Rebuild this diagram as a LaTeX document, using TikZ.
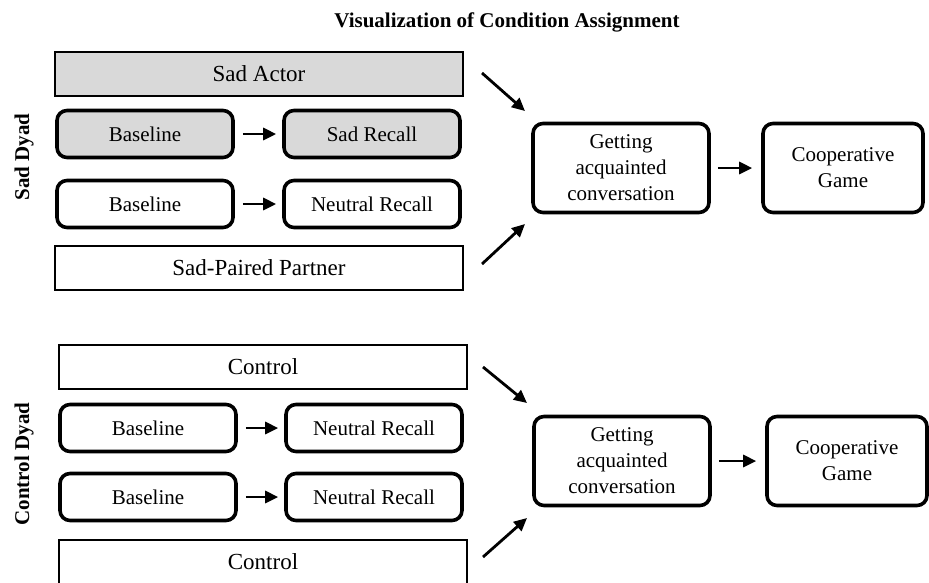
\documentclass[tikz,border=0pt]{standalone}
\usepackage{fontspec}
\setmainfont{Liberation Serif}
\usetikzlibrary{arrows.meta}
\definecolor{boxgray}{RGB}{217,217,217}
\tikzset{
	widebox/.style={draw, line width=1.3pt, minimum width=408pt, minimum height=44pt, inner sep=0pt, font=\fontsize{23}{26}\selectfont},
	stepbox/.style={draw, line width=3.6pt, rounded corners=10pt, minimum width=176pt, minimum height=47pt, inner sep=0pt, font=\fontsize{21}{24}\selectfont},
	flowbox/.style={stepbox, minimum height=89pt, align=center, font=\fontsize{21}{26}\selectfont},
	dyad/.style={rotate=90, font=\bfseries\fontsize{21}{24}\selectfont},
	arr/.style={-{Triangle[length=13pt,width=12pt]}, line width=2.8pt},
}
\begin{document}
\begin{tikzpicture}[x=1pt,y=-1pt]
\useasboundingbox (0,0) rectangle (929,582);
\node[font=\bfseries\fontsize{21}{24}\selectfont] (title) at (507,22) {Visualization of Condition Assignment};

% sad dyad
\node[dyad] (saddyad) at (24,157) {Sad Dyad};
\node[widebox, fill=boxgray] (actor) at (259,74) {Sad Actor};
\node[stepbox, fill=boxgray] (base1) at (145,134) {Baseline};
\node[stepbox, fill=boxgray] (recall1) at (372,134) {Sad Recall};
\node[stepbox] (base2) at (145,204) {Baseline};
\node[stepbox] (recall2) at (372,204) {Neutral Recall};
\node[widebox] (partner) at (259,268) {Sad-Paired Partner};
\node[flowbox] (talk1) at (621,168) {Getting\\acquainted\\conversation};
\node[flowbox, minimum width=160pt] (game1) at (843,168) {Cooperative\\Game};

% control dyad
\node[dyad] (ctrldyad) at (24,464) {Control Dyad};
\node[widebox] (ctrl1) at (263,367) {Control};
\node[stepbox] (base3) at (148,428) {Baseline};
\node[stepbox] (recall3) at (374,428) {Neutral Recall};
\node[stepbox] (base4) at (148,497) {Baseline};
\node[stepbox] (recall4) at (374,497) {Neutral Recall};
\node[widebox] (ctrl2) at (263,562) {Control};
\node[flowbox] (talk2) at (622,461) {Getting\\acquainted\\conversation};
\node[flowbox, minimum width=160pt] (game2) at (847,461) {Cooperative\\Game};

\foreach \i in {1,2,3,4}
	\draw[arr, shorten <=8pt, shorten >=6pt] (base\i) -- (recall\i);
\foreach \i in {1,2}
	\draw[arr, shorten <=7pt, shorten >=9pt] (talk\i) -- (game\i);

\coordinate (in1a) at (482,73);
\coordinate (in1b) at (525,111);
\coordinate (in2a) at (482,264);
\coordinate (in2b) at (525,224);
\coordinate (in3a) at (483,367);
\coordinate (in3b) at (527,403);
\coordinate (in4a) at (483,557);
\coordinate (in4b) at (527,518);
\foreach \i in {1,2,3,4}
	\draw[arr] (in\i a) -- (in\i b);
\end{tikzpicture}
\end{document}
